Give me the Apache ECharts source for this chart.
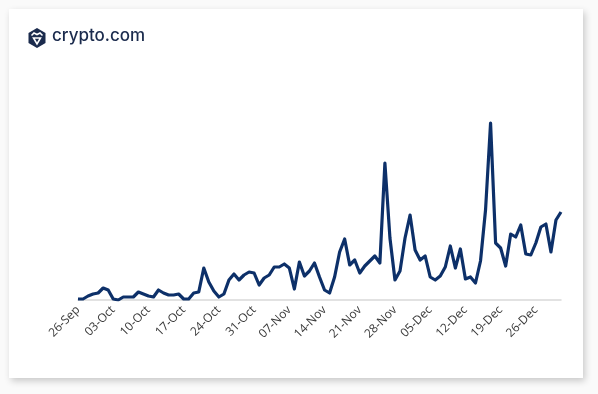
<!DOCTYPE html>
<html><head><meta charset="utf-8">
<script src="https://cdn.jsdelivr.net/npm/echarts@6/dist/echarts.min.js"></script>
<style>
html,body{margin:0;padding:0;background:#fafafa;}
#card{position:absolute;left:9px;top:9px;width:574px;height:369px;background:#fff;box-shadow:2px 3px 7px rgba(0,0,0,0.2);}
#chart{position:absolute;left:0;top:0;width:598px;height:394px;}
</style></head><body>
<div id="card"></div><div id="chart"></div>
<script>
const dates = [
 '26-Sep','27-Sep','28-Sep','29-Sep','30-Sep',
 '01-Oct','02-Oct','03-Oct','04-Oct','05-Oct','06-Oct','07-Oct','08-Oct','09-Oct','10-Oct','11-Oct','12-Oct','13-Oct','14-Oct','15-Oct','16-Oct','17-Oct','18-Oct','19-Oct','20-Oct','21-Oct','22-Oct','23-Oct','24-Oct','25-Oct','26-Oct','27-Oct','28-Oct','29-Oct','30-Oct','31-Oct',
 '01-Nov','02-Nov','03-Nov','04-Nov','05-Nov','06-Nov','07-Nov','08-Nov','09-Nov','10-Nov','11-Nov','12-Nov','13-Nov','14-Nov','15-Nov','16-Nov','17-Nov','18-Nov','19-Nov','20-Nov','21-Nov','22-Nov','23-Nov','24-Nov','25-Nov','26-Nov','27-Nov','28-Nov','29-Nov','30-Nov',
 '01-Dec','02-Dec','03-Dec','04-Dec','05-Dec','06-Dec','07-Dec','08-Dec','09-Dec','10-Dec','11-Dec','12-Dec','13-Dec','14-Dec','15-Dec','16-Dec','17-Dec','18-Dec','19-Dec','20-Dec','21-Dec','22-Dec','23-Dec','24-Dec','25-Dec','26-Dec','27-Dec','28-Dec','29-Dec','30-Dec','31-Dec'
];
const values = [
 1,1,4,6,7,12,10,1,0,3,
 3,3,8,6,4,3,10,7,5,5,
 6,1,1,7,8,32,18,9,3,6,
 20,26,20,25,28,27,15,22,25,33,
 33,36,32,11,38,24,29,37,23,10,
 7,23,48,61,35,40,27,34,39,44,
 37,137,62,20,29,62,85,50,40,44,
 23,20,24,33,54,32,51,21,23,17,
 39,90,177,57,52,34,66,63,75,46,
 45,57,73,76,48,80,88
];
const tickLabels = ['26-Sep','03-Oct','10-Oct','17-Oct','24-Oct','31-Oct','07-Nov','14-Nov','21-Nov','28-Nov','05-Dec','12-Dec','19-Dec','26-Dec'];

const chart = echarts.init(document.getElementById('chart'), null, {renderer:'canvas'});
const navy = '#0d3069';
chart.setOption({
  backgroundColor: 'transparent',
  animation: false,
  grid: {left: 78, right: 37, top: 120, bottom: 94},
  xAxis: {
    type: 'category',
    data: dates,
    boundaryGap: false,
    axisLine: {show: true, lineStyle: {color: '#d9d9d9', width: 1.5}},
    axisTick: {show: false},
    splitLine: {show: false},
    axisLabel: {
      interval: 0,
      rotate: 45,
      margin: 8,
      fontSize: 12,
      color: '#3a3a3a',
      fontFamily: '"Open Sans", sans-serif',
      formatter: v => tickLabels.includes(v) ? v : ''
    }
  },
  yAxis: {type: 'value', min: 0, max: 180, show: false, splitLine: {show: false}},
  series: [{
    type: 'line',
    data: values,
    showSymbol: false,
    symbol: 'none',
    lineStyle: {color: navy, width: 3.2, join: 'round'},
    smooth: false
  }],
  graphic: [
    {type: 'polygon', shape: {points: [[37,28],[45.5,33],[45.5,43],[37,48],[28.5,43],[28.5,33]]}, style: {fill: '#1b2b4d'}},
    {type: 'polyline', shape: {points: [[31.5,35.5],[34,33],[37,34.5],[40,33],[42.5,35.5]]}, style: {stroke: '#fff', lineWidth: 1.6, fill: 'none'}},
    {type: 'polygon', shape: {points: [[33.5,38],[40.5,38],[37,44]]}, style: {fill: 'none', stroke: '#fff', lineWidth: 1.6}},
    {type: 'text', left: 52, top: 27, style: {text: 'crypto.com', fontSize: 17, fontWeight: 500, fill: '#1b2b4d', fontFamily: 'Inter, "Open Sans", sans-serif'}}
  ]
});
</script>
</body></html>
